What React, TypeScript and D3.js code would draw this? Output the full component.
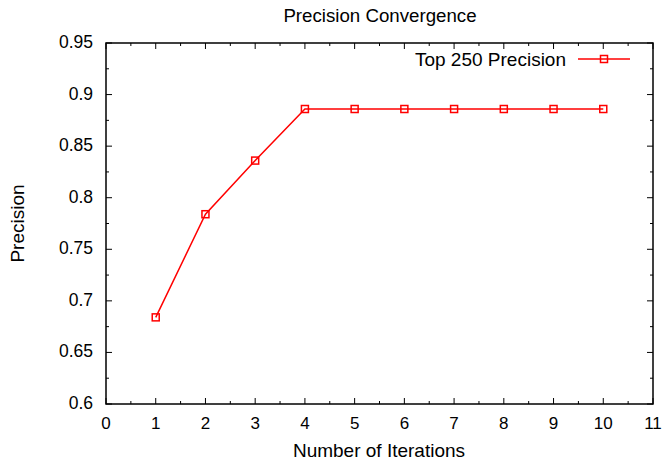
import React from "react";
import * as d3 from "d3";

const iterations = [1, 2, 3, 4, 5, 6, 7, 8, 9, 10];
const precision = [0.684, 0.784, 0.836, 0.886, 0.886, 0.886, 0.886, 0.886, 0.886, 0.886];
const xTicks = [0, 1, 2, 3, 4, 5, 6, 7, 8, 9, 10, 11];
const yTicks = [0.6, 0.65, 0.7, 0.75, 0.8, 0.85, 0.9, 0.95];
const yTickLabels = ["0.6", "0.65", "0.7", "0.75", "0.8", "0.85", "0.9", "0.95"];

const width = 662;
const height = 465;
const margin = { top: 43, right: 9, bottom: 61, left: 106 };
const font = "'Liberation Sans', Arial, Helvetica, sans-serif";

export default function App() {
  const x = d3.scaleLinear().domain([0, 11]).range([margin.left, width - margin.right]);
  const y = d3.scaleLinear().domain([0.6, 0.95]).range([height - margin.bottom, margin.top]);

  const line = d3
    .line<number>()
    .x((_, i) => x(iterations[i]))
    .y((d) => y(d));

  const x0 = x(0), x1 = x(11), y0 = y(0.6), y1 = y(0.95);
  const major = 6, minor = 3;
  const xMinor = d3.range(0.5, 11, 1);
  const yMinor = d3.range(0.625, 0.95, 0.05);

  return (
    <svg width={width} height={height} style={{ position: "absolute", left: 0, top: 0 }} fontFamily={font}>
      <rect width={width} height={height} fill="white" />
      <text x={380} y={22} textAnchor="middle" fontSize={18.7}>Precision Convergence</text>

      {/* ticks, all four sides */}
      <g stroke="black" strokeWidth={1}>
        {xTicks.map((t) => (
          <g key={"xt" + t}>
            <line x1={x(t)} x2={x(t)} y1={y0} y2={y0 - major} />
            <line x1={x(t)} x2={x(t)} y1={y1} y2={y1 + major} />
          </g>
        ))}
        {xMinor.map((t) => (
          <g key={"xm" + t}>
            <line x1={x(t)} x2={x(t)} y1={y0} y2={y0 - minor} />
            <line x1={x(t)} x2={x(t)} y1={y1} y2={y1 + minor} />
          </g>
        ))}
        {yTicks.map((t) => (
          <g key={"yt" + t}>
            <line x1={x0} x2={x0 + major} y1={y(t)} y2={y(t)} />
            <line x1={x1} x2={x1 - major} y1={y(t)} y2={y(t)} />
          </g>
        ))}
        {yMinor.map((t) => (
          <g key={"ym" + t}>
            <line x1={x0} x2={x0 + minor} y1={y(t)} y2={y(t)} />
            <line x1={x1} x2={x1 - minor} y1={y(t)} y2={y(t)} />
          </g>
        ))}
      </g>
      <rect x={x0} y={y1} width={x1 - x0} height={y0 - y1} fill="none" stroke="black" strokeWidth={1.5} />

      {xTicks.map((t) => (
        <text key={"xl" + t} x={x(t)} y={y0 + 25} textAnchor="middle" fontSize={17}>{t}</text>
      ))}
      {yTicks.map((t, i) => (
        <text key={"yl" + t} x={x0 - 13} y={y(t) + 5} textAnchor="end" fontSize={17.5}>{yTickLabels[i]}</text>
      ))}

      <text x={379} y={457} textAnchor="middle" fontSize={19}>Number of Iterations</text>
      <text transform={`translate(24, ${(y0 + y1) / 2}) rotate(-90)`} textAnchor="middle" fontSize={19}>Precision</text>

      <path d={line(precision) ?? ""} fill="none" stroke="#ff0000" strokeWidth={1.5} />
      {precision.map((d, i) => (
        <rect key={"m" + i} x={x(iterations[i]) - 3.5} y={y(d) - 3.5} width={7} height={7} fill="none" stroke="#ff0000" strokeWidth={1.5} />
      ))}

      {/* legend */}
      <text x={566} y={66} textAnchor="end" fontSize={19}>Top 250 Precision</text>
      <line x1={578} x2={630} y1={59} y2={59} stroke="#ff0000" strokeWidth={1.5} />
      <rect x={604 - 3.5} y={59 - 3.5} width={7} height={7} fill="none" stroke="#ff0000" strokeWidth={1.5} />
    </svg>
  );
}
